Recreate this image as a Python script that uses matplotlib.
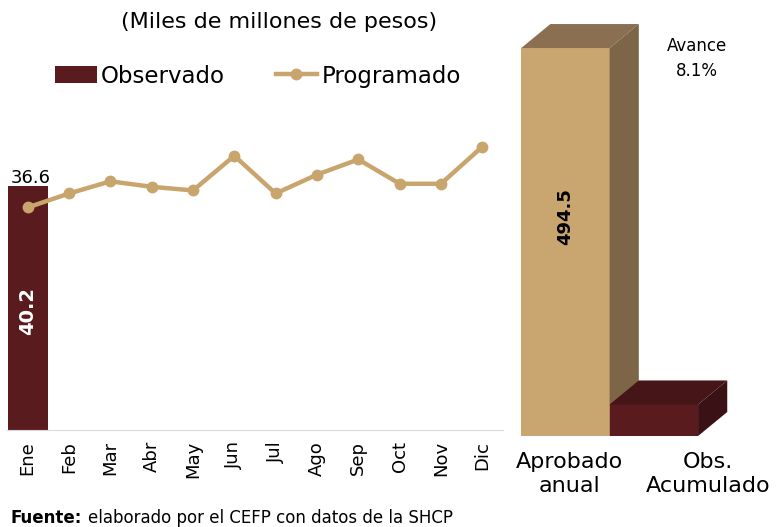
import numpy as np
import matplotlib.pyplot as plt
from matplotlib.patches import Polygon

# === datos ===
meses = ["Ene", "Feb", "Mar", "Abr", "May", "Jun", "Jul", "Ago", "Sep", "Oct", "Nov", "Dic"]
observado = [40.2]
programado = [36.6, 38.9, 40.9, 40.0, 39.4, 45.1, 38.9, 42.0, 44.5, 40.5, 40.5, 46.6]
acum_cats = ["Aprobado\nanual", "Obs.\nAcumulado"]
acum_vals = [494.5, 40.2]
avance = 8.1

C_OBS = "#5a1b1f"
C_PROG = "#c9a56e"
FONT = "DejaVu Sans"
plt.rcParams["font.family"] = FONT

fig = plt.figure(figsize=(7.83, 5.27), dpi=100)
W, H = 783, 527

def box(x0, y0, x1, y1):
    return [x0 / W, 1 - y1 / H, (x1 - x0) / W, (y1 - y0) / H]

# === panel mensual ===
ax = fig.add_axes(box(7, 126, 503, 430))
x = np.arange(len(meses))
bars = ax.bar(x[:len(observado)], observado, width=0.97, color=C_OBS, label="Observado", zorder=2)
line, = ax.plot(x, programado, color=C_PROG, lw=3.2, marker="o", ms=7.5, label="Programado", zorder=3)
ax.set_xlim(-0.5, 11.5)
ax.set_ylim(0, 50)
ax.set_yticks([])
for s in ["top", "right", "left"]:
    ax.spines[s].set_visible(False)
ax.spines["bottom"].set_color("#d9d9d9")
ax.set_xticks(x)
ax.set_xticklabels(meses, rotation=90, fontsize=13)
ax.tick_params(axis="x", length=0, pad=8)

ax.text(x[0] - 0.4, programado[0] + 3.3, f"{programado[0]:.1f}", fontsize=13, ha="left", va="bottom")
ax.text(x[0], observado[0] / 2 - 0.5, f"{observado[0]:.1f}", rotation=90, color="white",
        fontsize=14, fontweight="bold", ha="center", va="center")

fig.legend(handles=[bars, line], loc="center", bbox_to_anchor=(258 / W, 1 - 76 / H), ncol=2,
           frameon=False, fontsize=16.5, handlelength=1.8, handletextpad=0.2, columnspacing=2.2)
fig.text(279 / W, 1 - 22 / H, "(Miles de millones de pesos)", ha="center", va="center", fontsize=16)

# === panel acumulado (barras 3D) ===
ax2 = fig.add_axes(box(515, 10, 775, 436))
ax2.set_xlim(-0.57, 2.37)
ax2.set_ylim(0, 543)
ax2.axis("off")
dx, dy = 0.33, 30.6
faces = [("#c9a570", "#8a7050", "#7d6547"), (C_OBS, "#461518", "#3a1114")]
for i, (v, (cf, ct, cs)) in enumerate(zip(acum_vals, faces)):
    l, r = i - 0.5, i + 0.5
    ax2.add_patch(Polygon([(l, 0), (r, 0), (r, v), (l, v)], closed=True, fc=cf, ec="none"))
    ax2.add_patch(Polygon([(l, v), (r, v), (r + dx, v + dy), (l + dx, v + dy)], closed=True, fc=ct, ec="none"))
    ax2.add_patch(Polygon([(r, 0), (r + dx, dy), (r + dx, v + dy), (r, v)], closed=True, fc=cs, ec="none"))

ax2.text(0, 280, f"{acum_vals[0]:.1f}", rotation=90, fontsize=13, fontweight="bold", ha="center", va="center")
ax2.text(1.49, 481, f"Avance\n{avance:.1f}%", ha="center", va="center", fontsize=12, linespacing=1.5)

lab_x = [0.05, 1.61]
for lx, lab in zip(lab_x, acum_cats):
    ax2.text(lx, -20, lab, ha="center", va="top", fontsize=16, linespacing=1.3, clip_on=False)

t = fig.text(10 / W, 1 - 518 / H, "Fuente:", fontsize=12, fontweight="bold", va="center")
ax.annotate("elaborado por el CEFP con datos de la SHCP", xy=(1, 0.5), xycoords=t,
            xytext=(5, 0), textcoords="offset points", fontsize=12, va="center", ha="left",
            annotation_clip=False)

fig.savefig("out.png", dpi=100)
